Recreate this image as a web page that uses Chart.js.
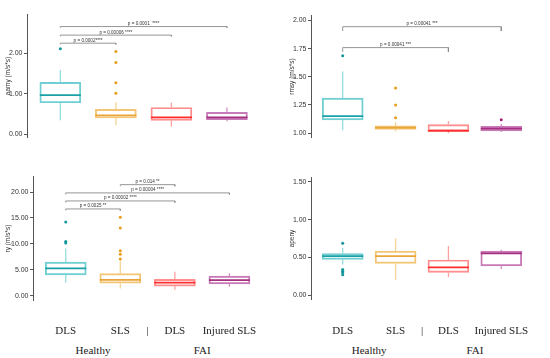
<!DOCTYPE html>
<html><head><meta charset="utf-8">
<script src="https://cdn.jsdelivr.net/npm/chart.js@4.4.1/dist/chart.umd.min.js"></script>
<style>
html,body{margin:0;padding:0;background:#fff;width:550px;height:358px;overflow:hidden;position:relative;font-family:"Liberation Sans",Arial,sans-serif}
canvas{position:absolute}
.lab{position:absolute;font-family:"Liberation Serif","Times New Roman",serif;font-size:11px;color:#222;transform:translateX(-50%);white-space:nowrap;line-height:11px}
</style></head><body>
<canvas id="c1"></canvas><canvas id="c2"></canvas><canvas id="c3"></canvas><canvas id="c4"></canvas>
<script>
// ---- categories / labels ----
const groups = ["Healthy DLS", "Healthy SLS", "FAI DLS", "FAI Injured SLS"];
const xLabels = ["DLS", "SLS", "|", "DLS", "Injured SLS"];
const xLabelPos = [1, 2, 2.5, 3, 4];
const groupLabels = ["Healthy", "FAI"];
const groupLabelPos = [1.5, 3.5];

// ---- aamy ----
const aamyLow = [0.345, 0.225, 0.19, 0.32];
const aamyQ1 = [0.776, 0.40, 0.34, 0.36];
const aamyMed = [0.966, 0.465, 0.415, 0.415];
const aamyQ3 = [1.28, 0.613, 0.66, 0.54];
const aamyHigh = [1.585, 0.79, 0.775, 0.66];
const aamyOut = [[2.11], [2.04, 1.77, 1.27, 1.01], [], []];
const aamyTicks = [0, 1, 2];
const aamyPairs = [[1, 4], [1, 3], [1, 2]];
const aamyLevels = [2.655, 2.444, 2.245];
const aamyP = ["p = 0.0001  ****", "p = 0.00006 ****", "p = 0.0002****"];

// ---- rmsy ----
const rmsyLow = [1.026, 1.015, 1.00, 1.01];
const rmsyQ1 = [1.117, 1.033, 1.02, 1.02];
const rmsyMed = [1.152, 1.05, 1.02, 1.041];
const rmsyQ3 = [1.311, 1.066, 1.076, 1.061];
const rmsyHigh = [1.547, 1.096, 1.109, 1.081];
const rmsyOut = [[1.686], [1.40, 1.25, 1.137], [], [1.119]];
const rmsyTicks = [1.00, 1.25, 1.50, 1.75, 2.00];
const rmsyPairs = [[1, 4], [1, 3]];
const rmsyLevels = [1.9446, 1.759];
const rmsyP = ["p = 0.00041 ***", "p = 0.00041 ***"];

// ---- ry ----
const ryLow = [2.53, 1.43, 1.16, 1.76];
const ryQ1 = [4.02, 2.42, 1.87, 2.31];
const ryMed = [5.28, 3.08, 2.53, 3.02];
const ryQ3 = [6.5, 4.3, 3.19, 3.8];
const ryHigh = [9.14, 6.7, 4.63, 4.35];
const ryOut = [[14.2, 10.46, 10.2], [15.15, 13.05, 8.7, 8.03, 7.1], [], []];
const ryTicks = [0, 5, 10, 15, 20];
const ryPairs = [[2, 3], [1, 4], [1, 3], [1, 2]];
const ryLevels = [21.42, 19.83, 18.28, 16.74];
const ryP = ["p = 0.014 **", "p = 0.00004 ****", "p = 0.00002 ****", "p = 0.0025 **"];

// ---- apeny ----
const apenyLow = [0.406, 0.204, 0.242, 0.345];
const apenyQ1 = [0.474, 0.42, 0.30, 0.386];
const apenyMed = [0.516, 0.516, 0.368, 0.553];
const apenyQ3 = [0.55, 0.583, 0.466, 0.583];
const apenyHigh = [0.629, 0.754, 0.652, 0.60];
const apenyOut = [[0.686, 0.341, 0.318, 0.30, 0.27], [], [], []];
const apenyTicks = [0, 0.5, 1.0, 1.5];

// ---- styles ----
const boxColors = ["#70cfd2", "#f3c675", "#ff8f8f", "#c97ab8"];
const medColors = ["#1aa0a6", "#e9a53a", "#ff2e2e", "#a4307f"];
const whiskColors = ["#95dcdf", "#f6d493", "#ffa0a0", "#cf8fc0"];
const outColors = ["#12959b", "#e99c17", "#ff3030", "#9e1f73"];

const bracketText = {
  id: 'bracketText',
  afterDatasetsDraw(chart, args, opts) {
    const {ctx} = chart; const x = chart.scales.x, y = chart.scales.y;
    ctx.save();
    ctx.font = '4.6px "Liberation Sans", Arial, sans-serif';
    ctx.fillStyle = '#333'; ctx.textAlign = 'center'; ctx.textBaseline = 'alphabetic';
    (opts.items || []).forEach(it => {
      const cx = (x.getPixelForValue(it.from) + x.getPixelForValue(it.to)) / 2;
      ctx.fillText(it.text, cx, y.getPixelForValue(it.level) - 1.5);
    });
    ctx.restore();
  }
};

function makePanel(id, p) {
  const cv = document.getElementById(id);
  cv.width = p.w; cv.height = p.h;
  cv.style.left = p.left + 'px'; cv.style.top = p.top + 'px';
  const xs = p.q1.map((_, i) => i + 1);
  const ds = [];
  ds.push({type: 'bar', data: xs.map((x, i) => ({x, y: [p.q1[i], p.q3[i]]})),
    backgroundColor: 'rgba(255,255,255,0)', borderColor: boxColors, borderWidth: 1.3,
    borderSkipped: false, barThickness: 41, order: 3});
  xs.forEach((x, i) => ds.push({type: 'line',
    data: [{x, y: p.lo[i]}, {x, y: p.q1[i]}, {x, y: null}, {x, y: p.q3[i]}, {x, y: p.hi[i]}],
    borderColor: whiskColors[i], borderWidth: 1.3, pointRadius: 0, spanGaps: false, order: 4}));
  ds.push({type: 'scatter', data: xs.map((x, i) => ({x, y: p.med[i]})), pointStyle: 'line',
    pointRadius: 20.5, pointBorderWidth: 1.8, pointBorderColor: medColors, order: 1});
  const oPts = [], oCols = [];
  p.out.forEach((arr, i) => arr.forEach(v => { oPts.push({x: i + 1, y: v}); oCols.push(outColors[i]); }));
  ds.push({type: 'scatter', data: oPts, pointStyle: 'circle', pointRadius: 1.5, pointBorderWidth: 0,
    pointBackgroundColor: oCols, order: 2});
  const items = [];
  (p.pairs || []).forEach((pr, k) => {
    const L = p.levels[k], d = p.drop;
    ds.push({type: 'line', data: [{x: pr[0], y: L - d}, {x: pr[0], y: L}, {x: pr[1], y: L}, {x: pr[1], y: L - d}],
      borderColor: '#8a8a8a', borderWidth: 0.9, pointRadius: 0, order: 5});
    items.push({from: pr[0], to: pr[1], level: L, text: p.ptext[k]});
  });
  return new Chart(cv, {
    type: 'bar',
    data: {datasets: ds},
    plugins: [bracketText],
    options: {
      responsive: false, animation: false, events: [],
      layout: {padding: {left: 0, top: 12, bottom: 12, right: p.padR}},
      plugins: {legend: {display: false}, tooltip: {enabled: false}, bracketText: {items}},
      scales: {
        x: {type: 'linear', display: false, min: 0.4, max: 4.5, offset: false},
        y: {type: 'linear', min: p.ymin, max: p.ymax, beginAtZero: false,
          afterBuildTicks: s => { s.ticks = p.ticks.map(v => ({value: v})); },
          afterFit: s => { s.width = p.yw; },
          ticks: {callback: v => Number(v).toFixed(2), font: {size: 7, family: 'Liberation Sans'},
            color: '#333', padding: 1.5, autoSkip: false},
          grid: {display: true, drawOnChartArea: false, drawTicks: true, tickLength: 3, color: '#555', lineWidth: 1},
          border: {display: true, color: '#555', width: 1},
          title: {display: true, text: p.title, font: {size: 6.5, family: 'Liberation Sans'}, color: '#333',
            padding: {top: 4, bottom: 0}}
        }
      }
    }
  });
}

const ch1 = makePanel('c1', {left: 0, top: -8, w: 277, h: 168, padR: 12, yw: 27,
  ymin: -0.0845, ymax: 2.957, ticks: aamyTicks, title: 'aamy (m/s*s)',
  lo: aamyLow, q1: aamyQ1, med: aamyMed, q3: aamyQ3, hi: aamyHigh, out: aamyOut,
  pairs: aamyPairs, levels: aamyLevels, ptext: aamyP, drop: 0.03});
const ch2 = makePanel('c2', {left: 284, top: -7, w: 266, h: 167, padR: 1, yw: 27,
  ymin: 0.9598, ymax: 2.0456, ticks: rmsyTicks, title: 'rmsy (m/s*s)',
  lo: rmsyLow, q1: rmsyQ1, med: rmsyMed, q3: rmsyQ3, hi: rmsyHigh, out: rmsyOut,
  pairs: rmsyPairs, levels: rmsyLevels, ptext: rmsyP, drop: 0.038});
const ch3 = makePanel('c3', {left: 0, top: 154, w: 279, h: 169, padR: 12, yw: 33,
  ymin: -0.942, ymax: 23.03, ticks: ryTicks, title: 'ry (m/s*s)',
  lo: ryLow, q1: ryQ1, med: ryMed, q3: ryQ3, hi: ryHigh, out: ryOut,
  pairs: ryPairs, levels: ryLevels, ptext: ryP, drop: 0.3});
const ch4 = makePanel('c4', {left: 284, top: 155, w: 266, h: 167, padR: 1, yw: 27,
  ymin: -0.060, ymax: 1.560, ticks: apenyTicks, title: 'apeny',
  lo: apenyLow, q1: apenyQ1, med: apenyMed, q3: apenyQ3, hi: apenyHigh, out: apenyOut});

function addLabels(chart, left) {
  const xs = chart.scales.x;
  xLabels.forEach((t, i) => {
    const d = document.createElement('div'); d.className = 'lab'; d.textContent = t;
    d.style.left = (left + xs.getPixelForValue(xLabelPos[i])) + 'px'; d.style.top = '325px';
    document.body.appendChild(d);
  });
  groupLabels.forEach((t, i) => {
    const d = document.createElement('div'); d.className = 'lab'; d.textContent = t;
    d.style.left = (left + xs.getPixelForValue(groupLabelPos[i])) + 'px'; d.style.top = '344.5px';
    document.body.appendChild(d);
  });
}
addLabels(ch3, 0);
addLabels(ch4, 284);
</script>
</body></html>
